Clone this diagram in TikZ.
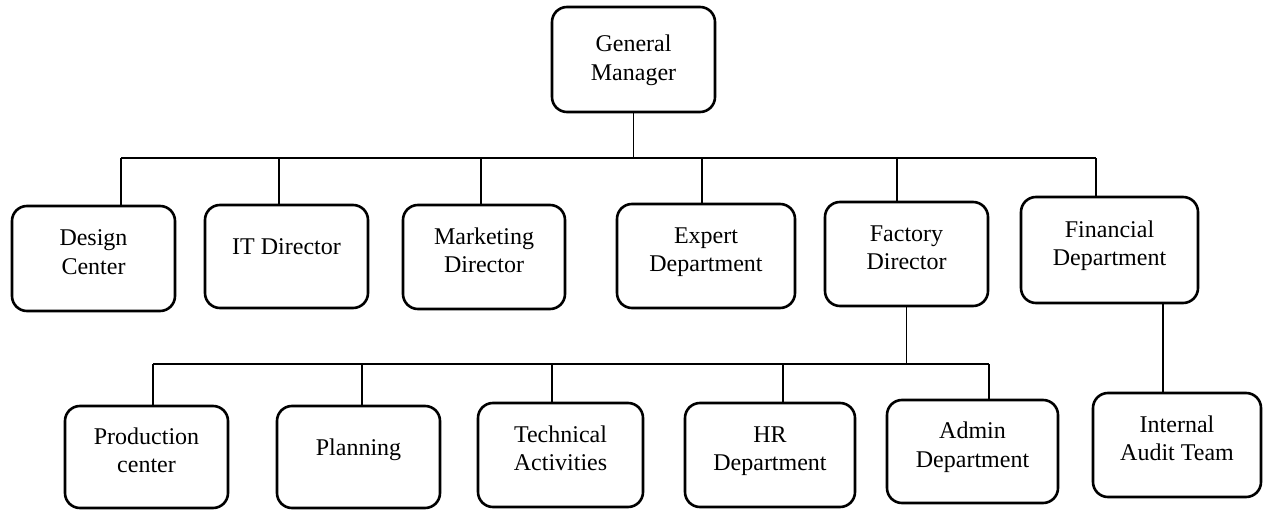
\documentclass[tikz,border=0pt]{standalone}
\usepackage{fontspec}
\setmainfont{Liberation Serif}
% stacked, centred lines inside a unit box
\newcommand\boxtext[1]{\begin{tabular}{@{}c@{}}#1\end{tabular}}
\begin{document}
\begin{tikzpicture}[x=1pt,y=-1pt,
  unit/.style={draw, line width=2.6pt, rounded corners=15pt, inner sep=0pt,
    font=\fontsize{24}{28.5}\selectfont},
  toptext/.style={text height=26pt, text depth=12pt},
  twoline/.style={text height=21pt, text depth=17pt},
  oneline/.style={text height=18pt, text depth=20pt},
  link/.style={line width=1.2pt}]
\fill[white] (0,0) rectangle (1263,510);
\useasboundingbox (0,0) rectangle (1263,510);

% top level
\node[unit, toptext, minimum width=163pt, minimum height=105pt] (gm) at (633.5,59.5) {\boxtext{General\\Manager}};

% second level
\node[unit, twoline, minimum width=163pt, minimum height=105pt] (dc) at (93.5,258.5) {\boxtext{Design\\Center}};
\node[unit, oneline, minimum width=163pt, minimum height=103pt] (it) at (286.5,256.5) {\boxtext{IT Director}};
\node[unit, twoline, minimum width=162pt, minimum height=104pt] (mk) at (484,257) {\boxtext{Marketing\\Director}};
\node[unit, twoline, minimum width=178pt, minimum height=104pt] (ex) at (706,256) {\boxtext{Expert\\Department}};
\node[unit, twoline, minimum width=163pt, minimum height=104pt] (fd) at (906.5,254) {\boxtext{Factory\\Director}};
\node[unit, twoline, minimum width=177pt, minimum height=106pt] (fi) at (1109.5,250) {\boxtext{Financial\\Department}};

% third level
\node[unit, twoline, minimum width=163pt, minimum height=102pt] (pc) at (146.5,457) {\boxtext{Production\\center}};
\node[unit, oneline, minimum width=163pt, minimum height=102pt] (pl) at (358.5,457) {\boxtext{Planning}};
\node[unit, twoline, minimum width=165pt, minimum height=104pt] (ta) at (560.5,455) {\boxtext{Technical\\Activities}};
\node[unit, twoline, minimum width=170pt, minimum height=104pt] (hr) at (770,455) {\boxtext{HR\\Department}};
\node[unit, twoline, minimum width=171pt, minimum height=103pt] (ad) at (972.5,451.5) {\boxtext{Admin\\Department}};
\node[unit, twoline, minimum width=168pt, minimum height=104pt] (ia) at (1177,445) {\boxtext{Internal\\Audit Team}};

% bus levels
\coordinate (busA) at (0,158);
\coordinate (busB) at (0,364);

% drop points on the second level
\coordinate (dcT) at ([xshift=27.5pt]dc.north);
\coordinate (itT) at ([xshift=-7.5pt]it.north);
\coordinate (mkT) at ([xshift=-3pt]mk.north);
\coordinate (exT) at ([xshift=-4pt]ex.north);
\coordinate (fdT) at ([xshift=-9.5pt]fd.north);
\coordinate (fiT) at ([xshift=-13.5pt]fi.north);

\draw[link] (gm.south) -- (gm.south |- busA);
\draw[link] (dcT |- busA) -- (fiT |- busA);
\foreach \p in {dcT,itT,mkT,exT,fdT,fiT}
  \draw[link] (\p) -- (\p |- busA);

% drop points on the third level
\coordinate (pcT) at ([xshift=6.5pt]pc.north);
\coordinate (plT) at ([xshift=3.5pt]pl.north);
\coordinate (taT) at ([xshift=-8.5pt]ta.north);
\coordinate (hrT) at ([xshift=13pt]hr.north);
\coordinate (adT) at ([xshift=16.5pt]ad.north);

\draw[link] (fd.south) -- (fd.south |- busB);
\draw[link] (pcT |- busB) -- (adT |- busB);
\foreach \p in {pcT,plT,taT,hrT,adT}
  \draw[link] (\p) -- (\p |- busB);

% finance to audit
\coordinate (fiB) at ([xshift=53.5pt]fi.south);
\draw[link] (fiB) -- (fiB |- ia.north);
\end{tikzpicture}
\end{document}
